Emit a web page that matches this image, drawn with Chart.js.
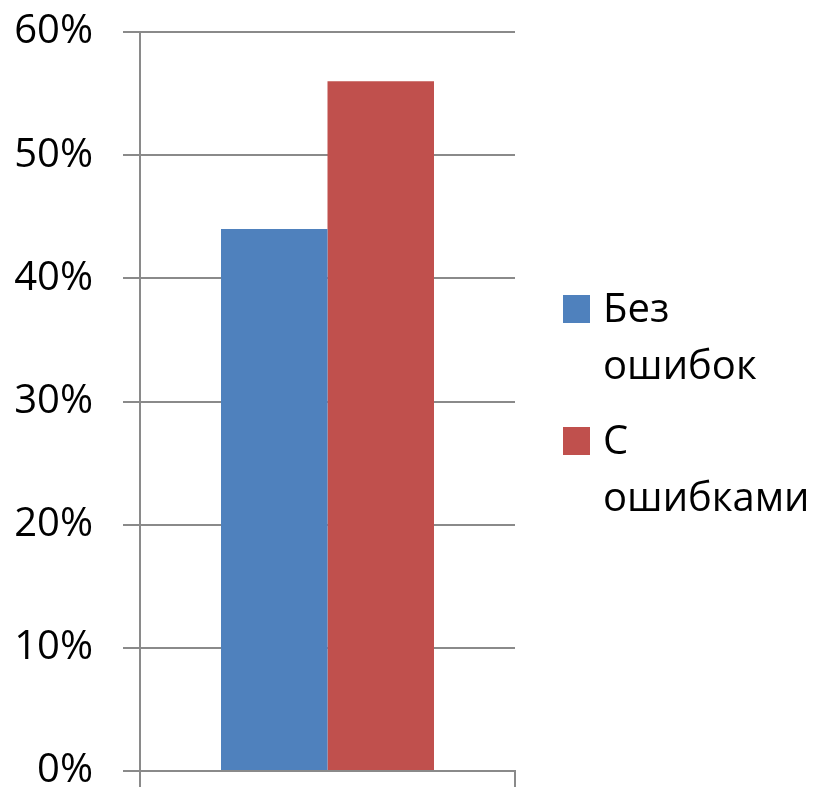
<!DOCTYPE html>
<html>
<head>
<meta charset="utf-8">
<script src="https://cdn.jsdelivr.net/npm/chart.js@4"></script>
<style>
  html, body { margin: 0; padding: 0; background: #fff; }
  #wrap { width: 823px; height: 788px; }
</style>
</head>
<body>
<div id="wrap"><canvas id="errors_chart"></canvas></div>
<script>
// one category, two series
var categories = [''];
var seriesNames = ['Без ошибок', 'С ошибками'];
var seriesValues = [[44], [56]];
var seriesColors = ['#4F81BD', '#C0504D'];
var yTicks = [0, 10, 20, 30, 40, 50, 60];

var FONT = '"Open Sans", "Noto Sans", sans-serif';
var GRID = '#8a8a8a';

// legend on the right, each word of a label on its own line
var sideLegend = {
    id: 'sideLegend',
    afterDraw: function(chart) {
        var ctx = chart.ctx;
        var x = 563, y = 295;
        ctx.save();
        ctx.font = '40px ' + FONT;
        ctx.textBaseline = 'alphabetic';
        chart.data.datasets.forEach(function(ds) {
            ctx.fillStyle = ds.backgroundColor;
            ctx.fillRect(x, y, 27, 28);
            ctx.fillStyle = '#000';
            ds.label.split(' ').forEach(function(w, i) {
                ctx.fillText(w, x + 40, y + 27 + i * 57);
            });
            y += 132;
        });
        ctx.restore();
    }
};

var datasets = seriesNames.map(function(name, i) {
    return {
        label: name,
        data: seriesValues[i],
        backgroundColor: seriesColors[i],
        borderWidth: 0,
        barPercentage: 1,
        categoryPercentage: 0.568
    };
});

var ctx = document.getElementById('errors_chart').getContext('2d');
new Chart(ctx, {
    type: 'bar',
    data: { labels: categories, datasets: datasets },
    options: {
        responsive: true,
        maintainAspectRatio: false,
        animation: false,
        layout: { padding: { top: 32, right: 308, left: 0, bottom: 0 } },
        plugins: {
            legend: { display: false },
            tooltip: { enabled: false }
        },
        scales: {
            x: {
                grid: {
                    display: true,
                    offset: true,
                    drawOnChartArea: false,
                    drawTicks: true,
                    tickLength: 16,
                    color: GRID,
                    lineWidth: 2
                },
                border: { display: true, color: GRID, width: 2 },
                ticks: { display: false },
                afterFit: function(scale) { scale.height = 17; }
            },
            y: {
                min: 0,
                max: 60,
                afterBuildTicks: function(scale) {
                    scale.ticks = yTicks.map(function(v) { return { value: v }; });
                },
                grid: {
                    color: GRID,
                    lineWidth: 2,
                    tickLength: 17
                },
                border: { display: true, color: GRID, width: 2 },
                ticks: {
                    padding: 30,
                    color: '#000',
                    font: { family: FONT, size: 40, lineHeight: 0.5 },
                    callback: function(v) { return v + '%'; }
                },
                afterFit: function(scale) {
                    scale.width = 140;
                    scale.paddingTop = 0;
                    scale.paddingBottom = 0;
                }
            }
        }
    },
    plugins: [sideLegend]
});
</script>
</body>
</html>
